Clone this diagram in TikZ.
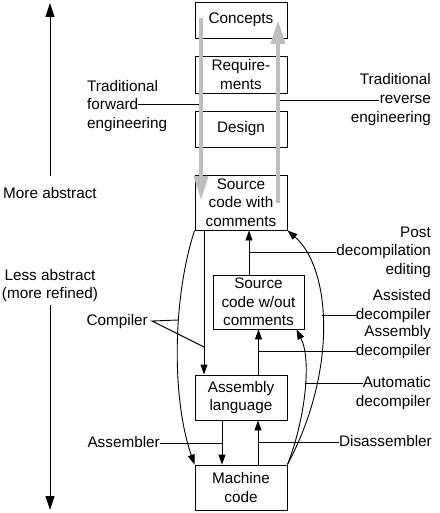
\documentclass[tikz,border=0pt]{standalone}
\usepackage{fontspec}
\setmainfont{Liberation Sans}
\usetikzlibrary{arrows.meta}
\definecolor{grayc}{RGB}{190,190,190}
\newcommand\lbfont{\fontsize{15.3}{18.5}\selectfont}
\begin{document}
\begin{tikzpicture}[x=1pt,y=-1pt,
  box/.style={draw, line width=0.9pt, minimum width=92pt, inner sep=0pt, align=center, font=\lbfont},
  lbl/.style={inner sep=0pt, font=\lbfont, text height=11pt, text depth=3pt},
  mlbl/.style={inner sep=0pt, font=\lbfont, align=right},
  ln/.style={line width=0.9pt},
  arr/.style={line width=0.9pt, -{Triangle[width=7pt,length=10pt]}},
  bigarr/.style={line width=0.9pt, -{Triangle[width=9pt,length=14pt]}},
  grayarrow/.style={draw=grayc, line width=4pt, -{Triangle[width=14pt,length=24pt]}}]
\useasboundingbox (0,0) rectangle (439,513);

% boxes
\node[box, minimum height=36pt] (concepts) at (241,20) {Concepts};
\node[box, minimum height=37pt] (req) at (241,74.5) {Require-\\ments};
\node[box, minimum height=36pt] (design) at (241,129) {Design};
\node[box, minimum height=55pt] (src) at (241,202.5) {Source\\code with\\comments};
\node[box, minimum width=91pt, minimum height=54pt] (srcw) at (258.5,302) {Source\\code w/out\\comments};
\node[box, minimum height=45pt] (asm) at (241,397.5) {Assembly\\language};
\node[box, minimum height=45pt] (mach) at (241,487.5) {Machine\\code};

% left scale
\coordinate (upbot) at (50,176);
\coordinate (uptip) at (50,3);
\coordinate (dntop) at (50,305);
\coordinate (dntip) at (50,510);
\draw[bigarr] (upbot) -- (uptip);
\draw[bigarr] (dntop) -- (dntip);
\node[lbl] (more) at (50,194) {More abstract};
\node[mlbl, align=center] (less) at (50,285.5) {Less abstract\\(more refined)};

% gray arrows coordinates
\coordinate (fwdtop) at (201,18);
\coordinate (fwdtip) at (201,200);
\coordinate (revbot) at (278,203);
\coordinate (revtip) at (278,20);

% forward / reverse labels
\node[lbl, anchor=west] (fw1) at (87,87.5) {Traditional};
\node[lbl, anchor=west] (fw2) at (87,106) {forward};
\node[lbl, anchor=west] (fw3) at (87,124.5) {engineering};
\draw[ln] ([yshift=2pt]fw2.east) -- ([yshift=2pt]fw2.east -| fwdtop);
\node[lbl, anchor=east] (rv1) at (431,81) {Traditional};
\node[lbl, anchor=east] (rv2) at (431,100) {reverse};
\node[lbl, anchor=east] (rv3) at (431,118.5) {engineering};
\draw[ln] ([xshift=-1pt]rv2.west) -- (rv2.west -| revtip);

\draw[grayarrow] (fwdtop) -- (fwdtip);
\draw[grayarrow] (revbot) -- (revtip);

% compiler
\coordinate (compA) at (178,320);
\coordinate (compB) at (204,347);
\draw[arr] ([xshift=-37pt]src.south) -- ([xshift=-37pt]asm.north);
\draw[arr] (src.south west) .. controls (172,300) and (172,400) .. (mach.north west);
\node[lbl, anchor=east] (comp) at (148,321) {Compiler};
\draw[ln] (compA) -- ([xshift=4pt]comp.east) -- (compB);

% assembler / disassembler
\coordinate (asmblt) at ([xshift=-19pt]asm.south);
\coordinate (disb) at ([xshift=17pt]mach.north);
\draw[arr] (asmblt) -- (asmblt |- mach.north);
\draw[arr] (disb) -- (disb |- asm.south);
\node[lbl, anchor=east] (asmbl) at (160,443) {Assembler};
\draw[ln] (asmbl.east) -- (asmbl.east -| asmblt);
\node[lbl, anchor=east] (disas) at (432,442) {Disassembler};
\draw[ln] (disas.west) -- (disas.west -| disb);

% post decompilation editing
\coordinate (postbot) at ([xshift=-9.5pt]srcw.north);
\draw[arr] (postbot) -- (postbot |- src.south);
\node[mlbl, anchor=east] (post) at (431,252) {Post\\decompilation\\editing};
\draw[ln] (post.west) -- (post.west -| postbot);

% assembly decompiler
\draw[arr] (srcw.south |- asm.north) -- (srcw.south);
\node[mlbl, anchor=east] (asmdec) at (431,342) {Assembly\\decompiler};
\draw[ln] ([yshift=-9.25pt]asmdec.west) -- ([yshift=-9.25pt]asmdec.west -| srcw.south);

% assisted decompiler
\draw[arr] (mach.north east) .. controls (338,370) and (331,268) .. (src.south east);
\coordinate (assistx) at (322,0);
\node[mlbl, anchor=east] (assist) at (431,306) {Assisted\\decompiler};
\draw[ln] ([yshift=-9.25pt]assist.west) -- ([yshift=-9.25pt]assist.west -| assistx);

% automatic decompiler
\draw[arr] (mach.north east) .. controls (305,420) and (312,360) .. ([xshift=-8pt]srcw.south east);
\coordinate (autox) at (305,0);
\node[lbl, anchor=east] (auto1) at (431,383) {Automatic};
\node[lbl, anchor=east] (auto2) at (431,402) {decompiler};
\draw[ln] (auto1.west) -- (auto1.west -| autox);
\end{tikzpicture}
\end{document}
